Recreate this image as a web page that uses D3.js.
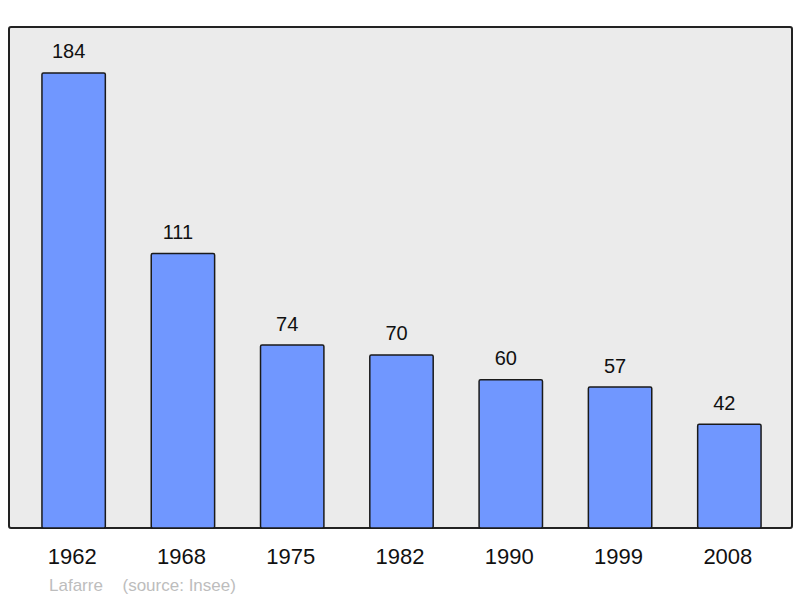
<!DOCTYPE html>
<html>
<head>
<meta charset="utf-8">
<title>Lafarre population</title>
<style>
  body { margin: 0; background: #fff; }
  text { font-family: "Liberation Sans", Arial, sans-serif; }
</style>
</head>
<body>
<div id="chart"></div>
<script src="https://d3js.org/d3.v7.min.js"></script>
<script>

// years and population values
var years = ["1962", "1968", "1975", "1982", "1990", "1999", "2008"];
var population = [184, 111, 74, 70, 60, 57, 42];
var commune = "Lafarre";
var source = "(source: Insee)";

var w = 800, h = 598;

var svg = d3.select("#chart")
    .append("svg")
    .attr("width", w).attr("height", h);

// grey panel behind the bars
svg.append("rect")
    .attr("x", 9).attr("y", 27)
    .attr("width", 783).attr("height", 501)
    .attr("rx", 2)
    .attr("fill", "#ebebeb")
    .attr("stroke", "#222").attr("stroke-width", 2);

var x = d3.scaleBand()
    .domain(years)
    .range([19, 784])
    .paddingInner(0.42)
    .paddingOuter(0.21);

var y = d3.scaleLinear()
    .domain([0, 202.6])
    .range([528, 27]);

var data = years.map(function(yr, i) { return {year: yr, value: population[i]}; });

svg.selectAll("rect.bar")
    .data(data)
    .enter()
    .append("rect")
    .attr("class", "bar")
    .attr("x", function(d) { return x(d.year); })
    .attr("y", function(d) { return y(d.value); })
    .attr("width", x.bandwidth())
    .attr("height", function(d) { return y(0) - y(d.value); })
    .attr("rx", 1.5)
    .attr("fill", "#7097ff")
    .attr("stroke", "#1a1a1a").attr("stroke-width", 1.5);

// value labels above bars
svg.selectAll("text.val")
    .data(data)
    .enter()
    .append("text")
    .attr("class", "val")
    .attr("x", function(d) { return x(d.year) + x.bandwidth() / 2 - 5; })
    .attr("y", function(d) { return y(d.value) - 14.5; })
    .attr("text-anchor", "middle")
    .attr("font-size", 20)
    .attr("fill", "#111")
    .text(function(d) { return d.value; });

// year labels under the panel
var xAxis = d3.axisBottom(x).tickSize(0).tickPadding(0);
var ax = svg.append("g")
    .attr("transform", "translate(-1.5,0)")
    .call(xAxis);
ax.select(".domain").remove();
ax.selectAll("text")
    .attr("y", 564)
    .attr("dy", null)
    .attr("font-size", 22)
    .attr("font-family", "Liberation Sans, Arial, sans-serif")
    .attr("fill", "#111");

svg.append("text")
    .attr("x", 49).attr("y", 590.5)
    .attr("font-size", 17)
    .attr("fill", "#bdbdbd")
    .text(commune);

svg.append("text")
    .attr("x", 122.5).attr("y", 590.5)
    .attr("font-size", 17)
    .attr("fill", "#bdbdbd")
    .text(source);

</script>
</body>
</html>
